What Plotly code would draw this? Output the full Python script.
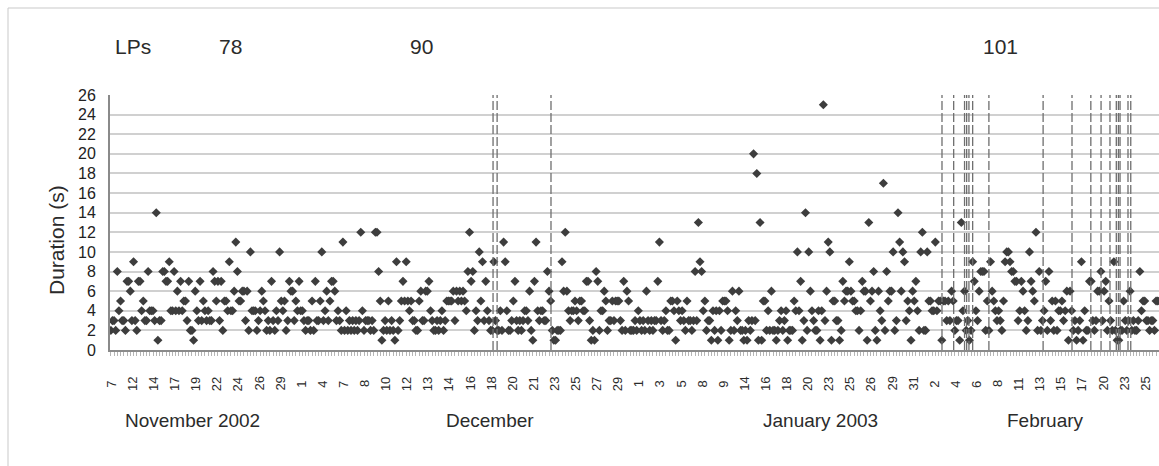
import plotly.graph_objects as go

# ---------------- data ----------------
# durations (s) of successive detections, in order of occurrence
durations_part1 = [2,3,3,2,8,4,5,3,3,2, 7,7,6,3,9,3,2,7,7,4, 5,3,3,8,4,4,4,3,14,1,
                   3,3,8,8,7,7,9,4,4,8, 4,6,4,7,4,5,5,3,7,2, 2,1,6,4,3,7,3,5,4,3,
                   4,3,3,8,7,5,7,3,7,2, 5,5,4,9,4,4,6,11,8,5, 5,6,6,3,6,2,10,4,4,4,
                   2,3,4,6,5,4,2,3,2,7, 3,2,4,3,10,5,4]
durations_part2 = [5,2,3,7,6,6,3,5,4,7, 4,4,3,2,3,3,2,5,2,7, 3,3,5,10,3,4,6,3,5,7,
                   7,6,3,4,3,2,11,2,4,2, 3,2,3,2,3,2,3,12,4,2, 3,3,3,2,3,2,12,12,8,5,
                   1,2,3,2,5,2,3,2,1,9, 2,3,5,7,5,9,5,4,5,3, 3,2,2,5,6,3,3,6,6,7,
                   4,3,2,2,3,2,3,4,2,3, 5,5,5,5,6,3,6,5]
durations_part3 = [6,5,6,5,4,8,12,7,8,2, 4,3,10,5,9,3,7,4,3,2, 2,9,3,2,2,4,2,11,9,4,
                   2,2,3,5,7,3,2,3,2,3, 4,4,3,6,2,1,7,11,4,3, 4,4,3,3,8,6,5,2,1,1,
                   2,2,2,9,6,12,6,4,3,4, 4,5,4,3,5,5,4,4,7,7, 3,1,2,1,8,7,2,4,4,6,
                   5,2,3,3,5,3,5,5,5,3, 2,7,2,6,5,2,2,2]
durations_part4 = [3,2,4,3,2,3,2,6,3,2,3,2,3,3,7, 11,
                   3,2,3,4,2,2,5,5,4,1,5,4,3,4,3,2,5,3,3,2,3,8,3, 13,
                   9,8,4,5,2,3,3,1,4,2,4,1,4,2,5,5,5,4,1,2,6,2,4,3,6,2,2,1,2,1,3,2,3,
                   20,3,18,1,13,1,
                   5,5,2,4,2,6,2,2,1,2,3,4,2,3,4,1,2,2,2,5,4,
                   10,4,7,1,3,14,2,10,6]
durations_part5 = [4,3,2,2,4,1,4,25,3,6, 11,10, 1,5,5,3,3,1,2,7,5,6,6, 9,
                   6,5,5,4,4,2,4,7,6,6,1, 13, 5,6,8,2,1,6,4,3, 17, 2,8,5,6,6,
                   10,2,3,14,11,6,10,9, 3,5,4,1,6,5,7,4,2, 10,12,2,2,10, 5,5,4,4, 11,
                   4,5,5,1,5,5,3,5,3,6,5,2,3,3,1, 13, 4,6,2,3,1, 2,9, 7,4,3,6,8,8,8,2]
durations_part6 = [5,2,9, 6,5,4,3,4,3,2,5, 9,10,10, 9,8,8,7,7,3,4,7,6,4,2,3, 10, 7,6,5, 12,
                   2,8,2,3,4,7,2,8,3,5,2,5,2,4,4,5,3,4,6,1,6,4,2,3,1,2,3, 9,
                   1,4,2,2,7,7,3,2,3,6,6,8,3,6,7,2,5,3,2, 9,
                   2,1,1,2,2,5,3,2,3,6,2,3,2,2,3, 8,
                   4,5,5,3,3,2,3,3,2,5,5,5]

durations = (durations_part1 + durations_part2 + durations_part3 +
             durations_part4 + durations_part5 + durations_part6)
event_index = list(range(len(durations)))

# date labels shown on the category axis (one every 13 detections)
tick_dates = ["7","12","14","17","19","22","24","26","29",
              "1","4","7","8","10","12","13","14","16","18","20","21","23","25","27","29",
              "1","3","5","8","9","14","16","18","20","23","25","26","29","31",
              "2","4","6","8","11","13","15","17","20","23","25"]
tick_step = 13
tick_positions = [i * tick_step for i in range(len(tick_dates))]

# detections at which a dashed marker line is drawn
marker_events = [235.5, 238, 271.2, 512.1, 519.3, 526, 527.3, 528.7, 531, 541,
                 574.4, 592.2, 603.8, 610.1, 615.6, 619.5, 620.8, 621.8, 626.7, 628.4]

month_labels = ["November 2002", "December", "January 2003", "February"]
lp_labels = ["LPs", "78", "90", "101"]

# ---------------- figure ----------------
W, H = 1159, 466
ML, MR, MT, MB = 110, 0, 95, 116
PW, PH = W - ML - MR, H - MT - MB


def px_x(px):
    return (px - ML) / PW


def px_y(py):
    return (H - MB - py) / PH


FONT = "Liberation Sans, Arial, sans-serif"
TXT = "#2b2b2b"

fig = go.Figure()
fig.add_trace(go.Scatter(
    x=event_index, y=durations, mode="markers",
    marker=dict(symbol="diamond", size=7, color="#3d3d3d", line=dict(width=0)),
    showlegend=False, hoverinfo="x+y"))

shapes = []
for ev in marker_events:
    shapes.append(dict(type="line", xref="x", yref="y", x0=ev, x1=ev, y0=0, y1=26,
                       line=dict(color="#6e6e6e", width=1.3, dash="9px,3px")))
# outer light frame of the chart area (top and left edges)
shapes.append(dict(type="line", xref="paper", yref="paper",
                   x0=px_x(8), x1=px_x(W), y0=px_y(8), y1=px_y(8),
                   line=dict(color="#c9c9c9", width=1)))
shapes.append(dict(type="line", xref="paper", yref="paper",
                   x0=px_x(8), x1=px_x(8), y0=px_y(8), y1=px_y(H),
                   line=dict(color="#c9c9c9", width=1)))

annotations = []
for pos, lab in zip(tick_positions, tick_dates):
    annotations.append(dict(x=pos, xref="x", y=px_y(384), yref="paper", text=lab,
                            textangle=-90, showarrow=False, xanchor="center",
                            yanchor="middle", font=dict(family=FONT, size=13, color=TXT)))

month_px = [192, 490, 820, 1045]
for px, lab in zip(month_px, month_labels):
    annotations.append(dict(x=px_x(px), xref="paper", y=px_y(420), yref="paper", text=lab,
                            showarrow=False, xanchor="center", yanchor="middle",
                            font=dict(family=FONT, size=19, color=TXT)))

lp_px = [133, 230, 421, 1000]
for px, lab in zip(lp_px, lp_labels):
    annotations.append(dict(x=px_x(px), xref="paper", y=px_y(46), yref="paper", text=lab,
                            showarrow=False, xanchor="center", yanchor="middle",
                            font=dict(family=FONT, size=21, color=TXT)))

annotations.append(dict(x=px_x(56), xref="paper", y=px_y(240), yref="paper",
                        text="Duration (s)", textangle=-90, showarrow=False,
                        xanchor="center", yanchor="middle",
                        font=dict(family=FONT, size=21, color=TXT)))

fig.update_layout(
    width=W, height=H,
    margin=dict(l=ML, r=MR, t=MT, b=MB, pad=0),
    paper_bgcolor="white", plot_bgcolor="white",
    shapes=shapes, annotations=annotations,
    xaxis=dict(range=[-0.5, 645.8], showgrid=False, zeroline=False,
               showline=True, linecolor="#8a8a8a", linewidth=2,
               tickmode="array", tickvals=list(range(0, len(durations), 2)),
               ticks="outside", ticklen=4, tickwidth=1, tickcolor="#b5b5b5",
               showticklabels=False, fixedrange=True),
    yaxis=dict(range=[0, 26], tick0=0, dtick=2, showgrid=True,
               gridcolor="#d0d0d0", gridwidth=1.5, zeroline=False,
               showline=True, linecolor="#8a8a8a", linewidth=2,
               ticks="", ticklabelstandoff=9,
               tickfont=dict(family=FONT, size=16, color="#222222"), fixedrange=True),
)

fig.write_html("out.html", config={"displayModeBar": False},
               post_script="document.body.style.margin='0';document.body.style.overflow='hidden';")
